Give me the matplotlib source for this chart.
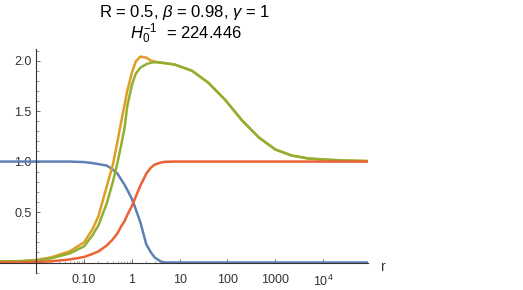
import numpy as np
import matplotlib
matplotlib.use("Agg")
import matplotlib.pyplot as plt
import matplotlib.ticker as mticker

r_werte = [0.0018, 0.005, 0.01, 0.02, 0.05, 0.1, 0.15, 0.2, 0.3, 0.4, 0.5, 0.6,
           0.7, 0.8, 1.0, 1.2, 1.5, 2.0, 2.5, 3.0, 4.0, 5.0, 8.0, 18.0, 40.0,
           90.0, 200.0, 450.0, 1000.0, 2200.0, 5000.0, 1.1e4, 2.9e4, 8.5e4]

blau = [1.0, 1.0, 1.0, 1.0, 1.0, 0.995, 0.985, 0.975, 0.96, 0.92, 0.88, 0.82,
        0.77, 0.72, 0.63, 0.53, 0.40, 0.18, 0.10, 0.05, 0.01, 0.0, 0.0, 0.0, 0.0,
        0.0, 0.0, 0.0, 0.0, 0.0, 0.0, 0.0, 0.0, 0.0]

orange = [0.01, 0.015, 0.025, 0.05, 0.11, 0.20, 0.33, 0.46, 0.76, 0.97, 1.20, 1.40,
          1.56, 1.70, 1.88, 1.99, 2.04, 2.03, 2.00, 1.99, 1.98, 1.975, 1.96, 1.90,
          1.78, 1.61, 1.41, 1.24, 1.12, 1.06, 1.03, 1.02, 1.01, 1.005]

gruen = [0.01, 0.013, 0.02, 0.04, 0.09, 0.16, 0.27, 0.37, 0.59, 0.80, 0.99, 1.17,
         1.33, 1.55, 1.76, 1.87, 1.93, 1.965, 1.98, 1.985, 1.98, 1.975, 1.96, 1.90,
         1.78, 1.61, 1.41, 1.24, 1.12, 1.06, 1.03, 1.02, 1.01, 1.005]

rot = [0.0, 0.0, 0.005, 0.012, 0.03, 0.055, 0.085, 0.11, 0.17, 0.23, 0.29, 0.36,
       0.41, 0.47, 0.56, 0.65, 0.76, 0.88, 0.94, 0.97, 0.99, 0.998, 1.0, 1.0, 1.0,
       1.0, 1.0, 1.0, 1.0, 1.0, 1.0, 1.0, 1.0, 1.0]

x_ticks = [0.1, 1, 10, 100, 1000, 1e4]
x_labels = ["0.10", "1", "10", "100", "1000", "10$^4$"]
y_ticks = [0.5, 1.0, 1.5, 2.0]
y_labels = ["0.5", "1.0", "1.5", "2.0"]

plt.rcParams["font.family"] = ["Liberation Sans", "DejaVu Sans"]
plt.rcParams["mathtext.fontset"] = "custom"
plt.rcParams["mathtext.rm"] = "Liberation Sans"
plt.rcParams["mathtext.it"] = "Liberation Sans:italic"

fig = plt.figure(figsize=(5.23, 2.90), dpi=100)
ax = fig.add_axes([0.0, 0.0586, 0.7036, 0.772])

lw = 1.8
ax.plot(r_werte, blau, color="#5E81B5", linewidth=lw)
ax.plot(r_werte, orange, color="#E19C24", linewidth=lw)
ax.plot(r_werte, gruen, color="#8FB032", linewidth=lw)
ax.plot(r_werte, rot, color="#EB6235", linewidth=lw)

ax.set_xscale("log")
ax.set_xlim(10 ** -2.76, 10 ** 4.94)
ax.set_ylim(-0.104, 2.114)

# Achsen wie bei Mathematica durch den Ursprung
for s in ["top", "right"]:
    ax.spines[s].set_visible(False)
ax.spines["left"].set_position(("data", 0.01))
ax.spines["bottom"].set_position(("data", 0.0))
for s in ["left", "bottom"]:
    ax.spines[s].set_color("#333333")
    ax.spines[s].set_linewidth(0.8)

ax.set_xticks(x_ticks)
ax.set_xticklabels(x_labels)
ax.xaxis.set_minor_locator(mticker.LogLocator(base=10, subs=np.arange(2, 10)))
ax.xaxis.set_minor_formatter(mticker.NullFormatter())
ax.set_yticks(y_ticks)
ax.set_yticklabels(y_labels)
ax.yaxis.set_minor_locator(mticker.MultipleLocator(0.1))

ax.tick_params(axis="both", which="major", direction="in", length=3, width=0.6,
               color="#555555", labelsize=9, labelcolor="#333333")
ax.tick_params(axis="both", which="minor", direction="in", length=1.8, width=0.5,
               color="#777777")
ax.tick_params(axis="x", which="major", pad=8)
ax.tick_params(axis="y", which="major", pad=3.5)

fig.text(383 / 523, 1 - 267 / 290, "r", fontsize=10, color="#333333",
         ha="center", va="center")

fig.text(184 / 523, 1 - 13 / 290, "R = 0.5, $\\beta$ = 0.98, $\\gamma$ = 1",
         fontsize=12, ha="center", va="center")
fig.text(186 / 523, 1 - 34 / 290, "$H_0^{-1}$  = 224.446",
         fontsize=12, ha="center", va="center")

fig.savefig("out.png", dpi=100)
